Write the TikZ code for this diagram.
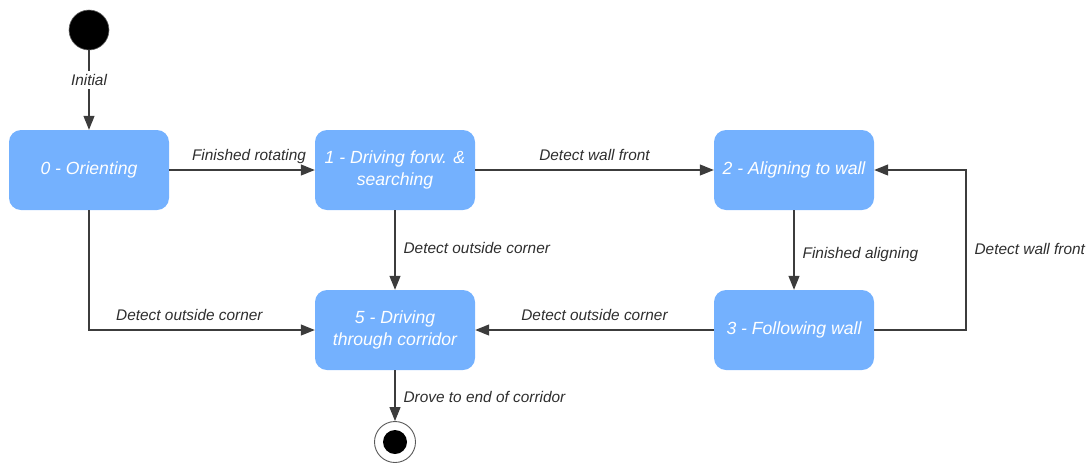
\documentclass[tikz,border=0pt]{standalone}
\usepackage{fontspec}
\setmainfont{Liberation Sans}
\usetikzlibrary{arrows.meta}
\definecolor{statefill}{HTML}{74B1FE}
\definecolor{wire}{HTML}{3C3C3C}
\definecolor{labeltext}{HTML}{2E2E2E}
\begin{document}
\begin{tikzpicture}[x=1pt,y=-1pt,
  state/.style={fill=statefill, draw=none, rounded corners=12pt,
    minimum width=160pt, minimum height=80pt, inner sep=0pt,
    align=center, text=white,
    font=\fontsize{17.6}{22}\selectfont\itshape},
  lbl/.style={inner sep=0pt, text=labeltext,
    font=\fontsize{15.4}{18}\selectfont\itshape},
  trans/.style={draw=wire, line width=1.2pt,
    -{Triangle[length=14pt,width=11pt]}},
]
\useasboundingbox (0,0) rectangle (1086,464);

% initial and final pseudo-states
\node (init) [circle, fill=black, draw=black!60, line width=0.6pt,
  minimum size=40pt, inner sep=0pt] at (89,30) {};
\node (final) [circle, fill=white, draw=black!65, line width=0.9pt,
  minimum size=41pt, inner sep=0pt] at (395,442) {};
\node (finalcore) [circle, fill=black, minimum size=24pt, inner sep=0pt]
  at (final.center) {};

% states
\node (s0) [state] at (89,170)  {0 - Orienting};
\node (s1) [state] at (395,170) {1 - Driving forw. \&\\searching};
\node (s2) [state] at (794,170) {2 - Aligning to wall};
\node (s3) [state] at (794,330) {3 - Following wall};
\node (s5) [state] at (395,330) {5 - Driving\\through corridor};

% transitions
\draw[trans] (init) -- (s0)
  node[lbl, fill=white, inner ysep=3pt, pos=0.375] {Initial};
\draw[trans] (s0) -- (s1)
  node[lbl, midway, xshift=7pt, yshift=13pt] {Finished rotating};
\draw[trans] (s1) -- (s2)
  node[lbl, midway, yshift=15pt] {Detect wall front};
\draw[trans] (s1) -- (s5)
  node[lbl, midway, anchor=west, xshift=8pt, yshift=2pt] {Detect outside corner};
\draw[trans] (s0) |- (s5)
  node[lbl, pos=0.75, xshift=-12.5pt, yshift=15pt] {Detect outside corner};
\draw[trans] (s3) -- (s5)
  node[lbl, midway, yshift=15pt] {Detect outside corner};
\draw[trans] (s2) -- (s3)
  node[lbl, midway, anchor=west, xshift=8pt, yshift=-5pt] {Finished aligning};
\coordinate (loop) at (966,330);
\draw[trans] (s3.east) -- (loop) |- (s2.east)
  node[lbl, pos=0.25, anchor=west, xshift=8pt, yshift=1pt] {Detect wall front};
\draw[trans] (s5) -- (final)
  node[lbl, midway, anchor=west, xshift=8pt, yshift=-1pt] {Drove to end of corridor};
\end{tikzpicture}
\end{document}
